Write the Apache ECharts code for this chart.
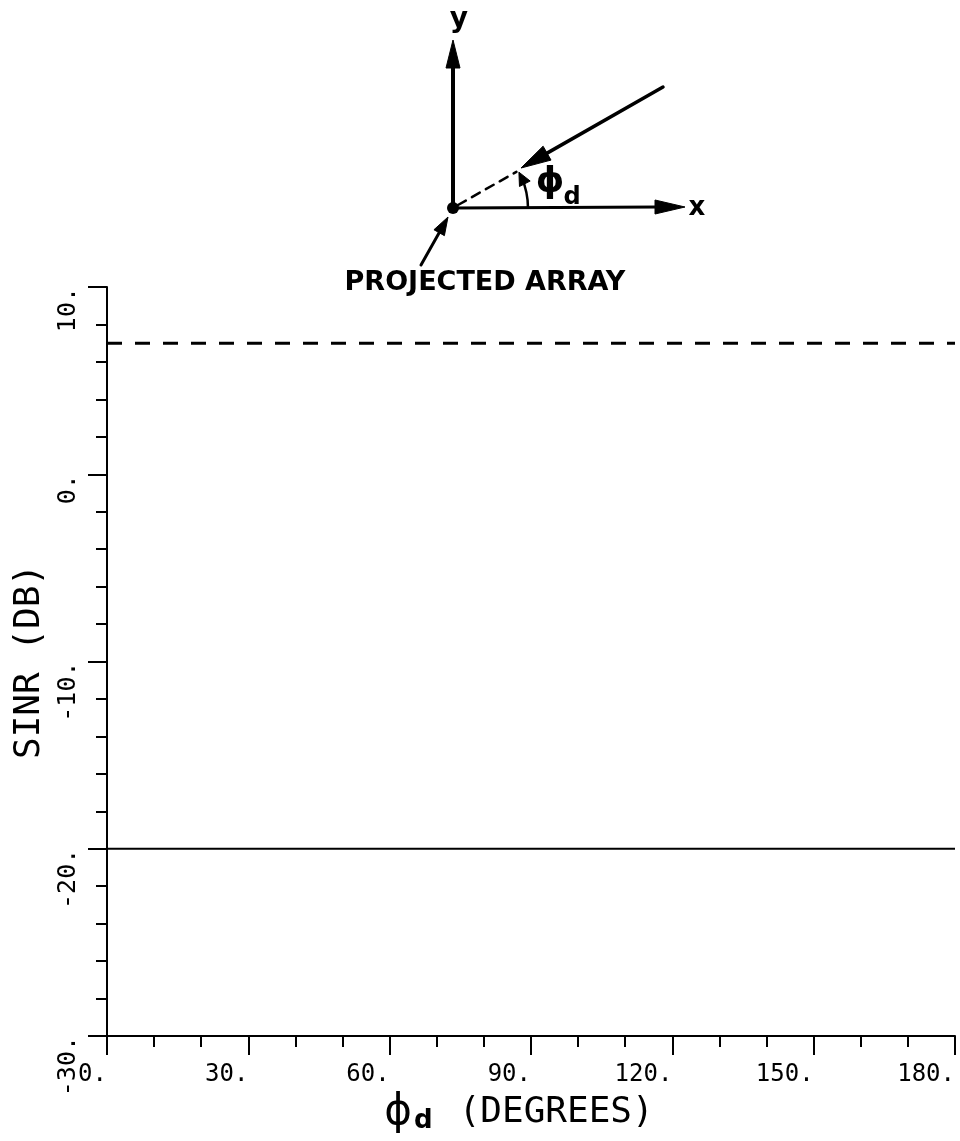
<!DOCTYPE html>
<html>
<head>
<meta charset="utf-8">
<script src="https://cdn.jsdelivr.net/npm/echarts@6/dist/echarts.min.js"></script>
<style>
  html, body { margin: 0; padding: 0; background: #fff; }
  #chart { width: 960px; height: 1141px; }
</style>
</head>
<body>
<div id="chart"></div>
<script>
// Arrival angle of the desired signal (degrees) and the SINR curves (dB)
const phiD = [0, 180];
const sinrDashed = [7.0, 7.0];
const sinrSolid = [-20.0, -20.0];

// Axis ranges and tick spacing
const xRange = [0, 180];
const xStep = 30;
const yRange = [-30, 10];
const yStep = 10;

const INK = '#000';
const MONO = '"DejaVu Sans Mono", "Liberation Mono", monospace';
const SANS = '"DejaVu Sans", "Liberation Sans", sans-serif';

const tickLabel = v => v + '.';

// --- geometry helpers for the inset sketch of the array coordinates ---
function unit(a, b) {
  const dx = b[0] - a[0], dy = b[1] - a[1];
  const l = Math.hypot(dx, dy);
  return [dx / l, dy / l];
}
function head(tip, dir, len, half) {
  const bx = tip[0] - dir[0] * len, by = tip[1] - dir[1] * len;
  return [[tip[0], tip[1]], [bx - dir[1] * half, by + dir[0] * half], [bx + dir[1] * half, by - dir[0] * half]];
}
function line(p, q, w, dash) {
  return { type: 'line', silent: true, shape: { x1: p[0], y1: p[1], x2: q[0], y2: q[1] },
           style: { stroke: INK, lineWidth: w, lineDash: dash || null, lineCap: 'round' } };
}
function poly(pts) {
  return { type: 'polygon', silent: true, shape: { points: pts }, style: { fill: INK, stroke: INK, lineWidth: 1 } };
}
function label(text, x, y, size, weight, family, align) {
  return { type: 'text', silent: true, x: x, y: y,
           style: { text: text, fill: INK, font: (weight || 'normal') + ' ' + size + 'px ' + (family || SANS),
                    align: align || 'center', verticalAlign: 'middle' } };
}

const origin = [453, 208];
const yTip = [453, 40];
const xTip = [685, 207];
const rayTail = [663, 87];
const rayTip = [521, 168];
const rayDir = unit(rayTail, rayTip);
const dashEnd = [origin[0] - rayDir[0] * 73, origin[1] - rayDir[1] * 73];
const arcR = 75;
const arcTop = 27 * Math.PI / 180;
const arcEnd = [origin[0] + arcR * Math.cos(arcTop), origin[1] - arcR * Math.sin(arcTop)];
const arcTan = [-Math.sin(arcTop), -Math.cos(arcTop)];
const paTail = [421, 265];
const paTip = [448, 217];
const paDir = unit(paTail, paTip);

const sketch = [
  // y axis of the sketch
  line(origin, [yTip[0], yTip[1] + 24], 4),
  poly(head(yTip, [0, -1], 28, 7)),
  label('y', 459, 20, 28, 'bold'),
  // x axis of the sketch
  line(origin, [xTip[0] - 26, xTip[1]], 3),
  poly(head(xTip, [1, 0], 30, 7)),
  label('x', 697, 208, 26, 'bold'),
  // incoming wavefront direction
  line(rayTail, [rayTip[0] - rayDir[0] * 24, rayTip[1] - rayDir[1] * 24], 3.5),
  poly(head(rayTip, rayDir, 30, 8)),
  line([origin[0] + 5, origin[1] - 3], dashEnd, 2.5, [9, 7]),
  // angle marker
  { type: 'arc', silent: true,
    shape: { cx: origin[0], cy: origin[1], r: arcR, startAngle: -arcTop + 0.06, endAngle: 0, clockwise: true },
    style: { stroke: INK, lineWidth: 2.5, fill: null } },
  poly(head([arcEnd[0] + arcTan[0] * 2, arcEnd[1] + arcTan[1] * 2], arcTan, 13, 6)),
  label('\u03D5', 550, 183, 36, 'bold'),
  label('d', 572, 198, 24, 'bold'),
  // array element at the origin
  { type: 'circle', silent: true, shape: { cx: origin[0], cy: origin[1], r: 6 }, style: { fill: INK } },
  line(paTail, [paTip[0] - paDir[0] * 14, paTip[1] - paDir[1] * 14], 3),
  poly(head(paTip, paDir, 18, 6)),
  label('PROJECTED ARRAY', 485, 283, 27, 'bold')
];

const chart = echarts.init(document.getElementById('chart'), null, { renderer: 'canvas' });

chart.setOption({
  animation: false,
  backgroundColor: '#fff',
  grid: { left: 107, right: 5, top: 287, bottom: 105, containLabel: false, outerBoundsMode: 'none' },
  xAxis: {
    type: 'value',
    min: xRange[0], max: xRange[1], interval: xStep,
    axisLine: { show: true, onZero: false, lineStyle: { color: INK, width: 2 } },
    axisTick: { show: true, length: 19, lineStyle: { color: INK, width: 2 } },
    minorTick: { show: true, splitNumber: 3, length: 11, lineStyle: { color: INK, width: 2 } },
    splitLine: { show: false },
    minorSplitLine: { show: false },
    axisLabel: {
      formatter: tickLabel, align: 'right', margin: 27, showMinLabel: true, showMaxLabel: true,
      fontFamily: MONO, fontSize: 24, color: INK
    },
    name: '{phi|\u03D5}{sub|d}{t|(DEGREES)}',
    nameLocation: 'middle',
    nameGap: 52,
    nameTextStyle: {
      color: INK,
      rich: {
        phi: { fontFamily: SANS, fontSize: 42, color: INK, verticalAlign: 'middle' },
        sub: { fontFamily: SANS, fontWeight: 'bold', fontSize: 26, color: INK, verticalAlign: 'bottom', padding: [0, 0, 0, 2] },
        t: { fontFamily: MONO, fontSize: 36, color: INK, verticalAlign: 'middle', padding: [0, 24, 0, 26] }
      }
    }
  },
  yAxis: {
    type: 'value',
    min: yRange[0], max: yRange[1], interval: yStep,
    axisLine: { show: true, onZero: false, lineStyle: { color: INK, width: 2 } },
    axisTick: { show: true, length: 19, lineStyle: { color: INK, width: 2 } },
    minorTick: { show: true, splitNumber: 5, length: 11, lineStyle: { color: INK, width: 2 } },
    splitLine: { show: false },
    minorSplitLine: { show: false },
    axisLabel: {
      formatter: tickLabel, rotate: 90, align: 'right', verticalAlign: 'bottom', margin: 26,
      showMinLabel: true, showMaxLabel: true,
      fontFamily: MONO, fontSize: 25, color: INK
    },
    name: 'SINR (DB)',
    nameLocation: 'middle',
    nameRotate: 90,
    nameGap: 55,
    nameTextStyle: { fontFamily: MONO, fontSize: 36, color: INK }
  },
  series: [
    {
      type: 'line',
      data: phiD.map((x, i) => [x, sinrDashed[i]]),
      symbol: 'none',
      lineStyle: { color: INK, width: 3, type: [15, 13] }
    },
    {
      type: 'line',
      data: phiD.map((x, i) => [x, sinrSolid[i]]),
      symbol: 'none',
      lineStyle: { color: INK, width: 2 }
    }
  ],
  graphic: sketch
});
</script>
</body>
</html>
